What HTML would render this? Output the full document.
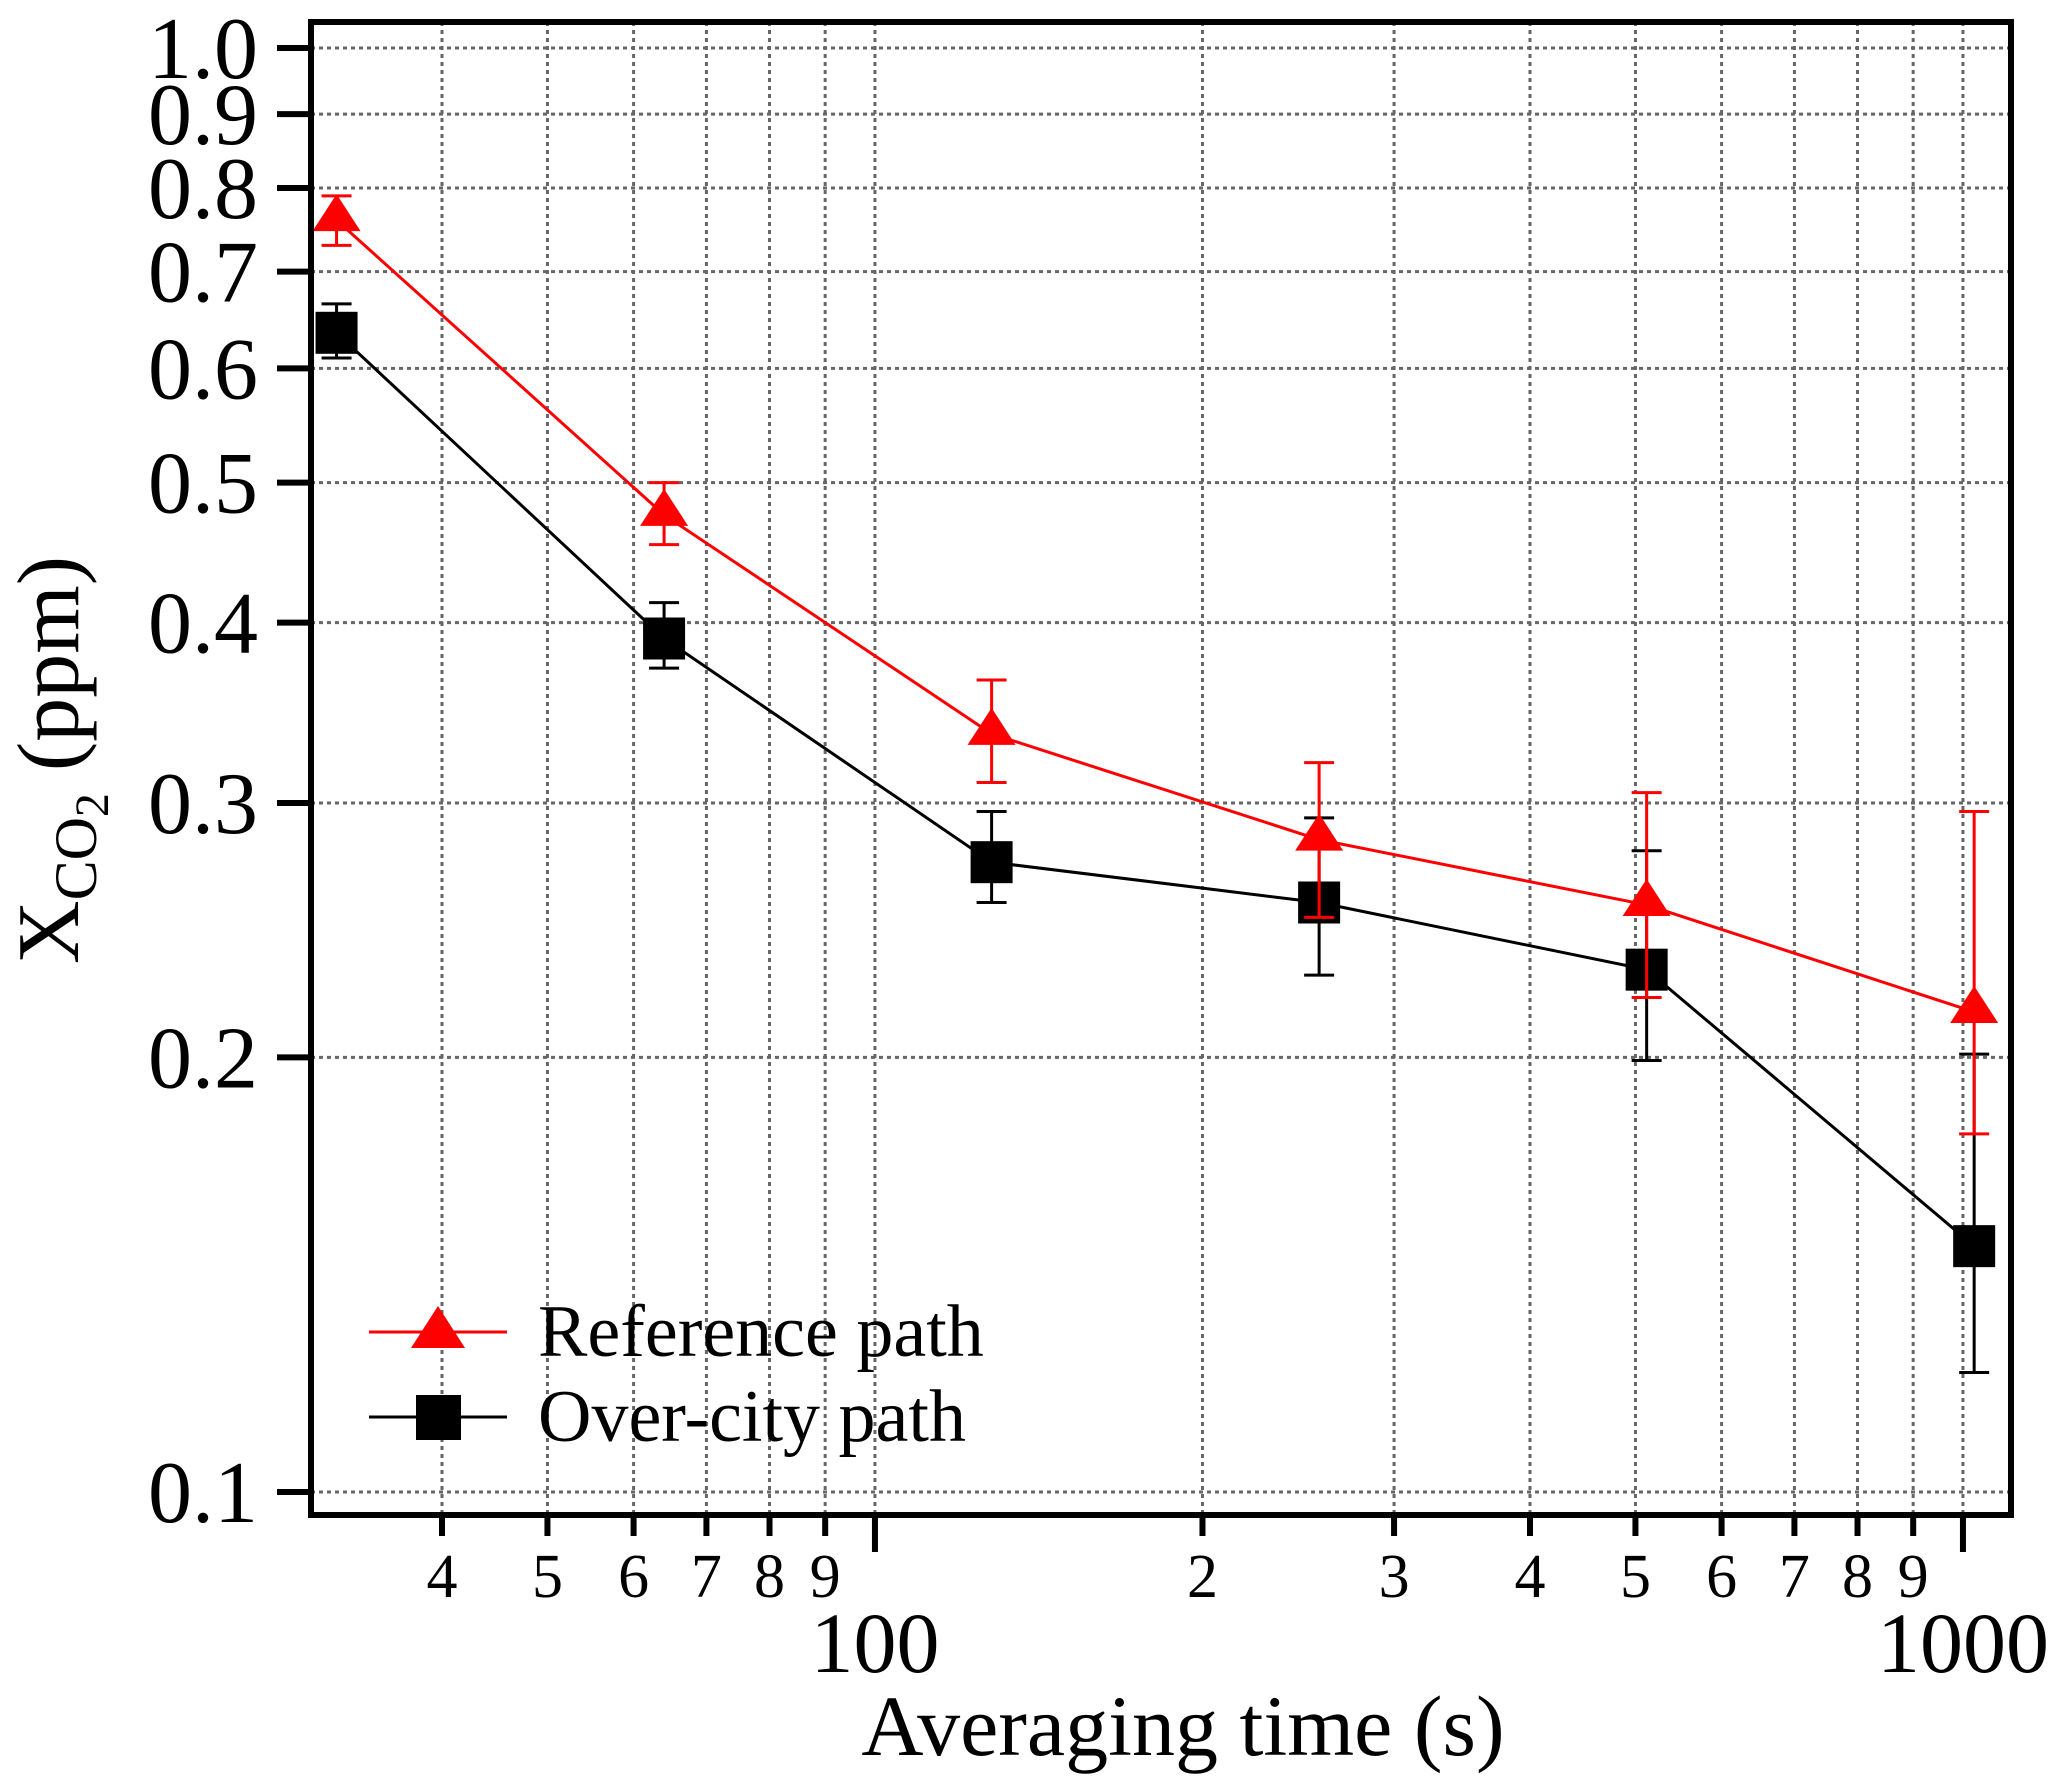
<!DOCTYPE html>
<html><head><meta charset="utf-8"><style>
html,body{margin:0;padding:0;background:#fff}
svg{display:block}
text{font-family:"Liberation Serif",serif;fill:#000}
</style></head><body>
<svg id="chart" width="2067" height="1788" viewBox="0 0 2067 1788" xmlns="http://www.w3.org/2000/svg">
<g id="grid"></g>
<g id="axes"></g>
<g id="series"></g>
<rect x="311" y="22" width="1700" height="1493" fill="none" stroke="#000" stroke-width="6"/>
<text x="0" y="0" font-size="88" text-anchor="middle" transform="translate(78,760) rotate(-90)">X<tspan font-size="60" dy="18">CO</tspan><tspan font-size="48" dy="12">2</tspan><tspan dy="-30"> (ppm)</tspan></text>
<text x="1183" y="1755" font-size="86" text-anchor="middle">Averaging time (s)</text>
<g>
<line x1="369" y1="1332" x2="507" y2="1332" stroke="#f00" stroke-width="3"/>
<polygon points="438,1306 465,1348 411,1348" fill="#f00"/>
<text x="538" y="1356" font-size="74">Reference path</text>
<line x1="369" y1="1417" x2="507" y2="1417" stroke="#000" stroke-width="3"/>
<rect x="416" y="1395" width="45" height="45" fill="#000"/>
<text x="538" y="1441" font-size="74">Over-city path</text>
</g>
</svg>
<script>
const xValues=[32,64,128,256,512,1024];
const refY=[0.76,0.475,0.335,0.283,0.255,0.215];
const refLo=[0.73,0.453,0.31,0.25,0.22,0.177];
const refHi=[0.79,0.50,0.365,0.32,0.305,0.296];
const cityY=[0.635,0.39,0.273,0.256,0.23,0.148];
const cityLo=[0.61,0.372,0.256,0.228,0.199,0.121];
const cityHi=[0.665,0.413,0.296,0.293,0.278,0.201];
const yTicks=[0.1,0.2,0.3,0.4,0.5,0.6,0.7,0.8,0.9,1.0];
const yTickLabels=["0.1","0.2","0.3","0.4","0.5","0.6","0.7","0.8","0.9","1.0"];
const xMinor=[40,50,60,70,80,90,200,300,400,500,600,700,800,900];
const xMinorLabels=["4","5","6","7","8","9","2","3","4","5","6","7","8","9"];
const xMajor=[100,1000];
const xMajorLabels=["100","1000"];
const NS="http://www.w3.org/2000/svg";
function X(v){return 442+(Math.log10(v)-Math.log10(40))*1088;}
function Y(v){return 48-Math.log10(v)*1444;}
function mk(tag,attrs,parent){const e=document.createElementNS(NS,tag);for(const k in attrs)e.setAttribute(k,attrs[k]);parent.appendChild(e);return e;}
const grid=document.getElementById('grid'),axes=document.getElementById('axes'),series=document.getElementById('series');
const gs={stroke:'#666','stroke-width':3,'stroke-dasharray':'4 4'};
yTicks.forEach((t,i)=>{const y=Y(t);
let g=mk('line',Object.assign({x1:311,x2:2011,y1:y,y2:y},gs),grid);

let tk=mk('line',{x1:277,x2:311,y1:y,y2:y,stroke:'#000','stroke-width':6},axes);

let tx=mk('text',{x:258,y:y+30,'font-size':88,'text-anchor':'end'},axes);tx.textContent=yTickLabels[i];
});
xMinor.concat(xMajor).forEach(t=>{const x=X(t);
let g=mk('line',Object.assign({x1:x,x2:x,y1:22,y2:1515},gs),grid);
});
xMinor.forEach((t,i)=>{const x=X(t);
let tk=mk('line',{x1:x,x2:x,y1:1515,y2:1536,stroke:'#000','stroke-width':6},axes);

let tx=mk('text',{x:x,y:1597,'font-size':62,'text-anchor':'middle'},axes);tx.textContent=xMinorLabels[i];
});
xMajor.forEach((t,i)=>{const x=X(t);
let tk=mk('line',{x1:x,x2:x,y1:1515,y2:1552,stroke:'#000','stroke-width':6},axes);

let tx=mk('text',{x:x,y:1672,'font-size':86,'text-anchor':'middle'},axes);tx.textContent=xMajorLabels[i];
});
function drawSeries(ys,lo,hi,color,shape,name){
const pts=xValues.map((x,i)=>X(x)+','+Y(ys[i])).join(' ');
let pl=mk('polyline',{points:pts,fill:'none',stroke:color,'stroke-width':3},series);

xValues.forEach((xv,i)=>{const x=X(xv),y=Y(ys[i]),y1=Y(hi[i]),y2=Y(lo[i]);
let eb=mk('path',{d:`M${x},${y1}V${y2}M${x-15},${y1}H${x+15}M${x-15},${y2}H${x+15}`,stroke:color,'stroke-width':3,fill:'none'},series);

let m;
if(shape==='tri'){m=mk('polygon',{points:`${x},${y-26} ${x+24},${y+11} ${x-24},${y+11}`,fill:color},series);}
else{m=mk('rect',{x:x-21,y:y-21,width:42,height:42,fill:color},series);}
});}
drawSeries(cityY,cityLo,cityHi,'#000','sq','overcity');
drawSeries(refY,refLo,refHi,'#f00','tri','reference');
</script>
</body></html>
